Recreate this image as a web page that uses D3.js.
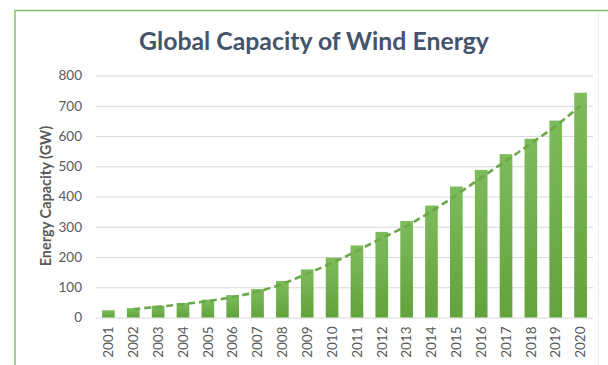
<!DOCTYPE html>
<html>
<head>
<meta charset="utf-8">
<script src="https://cdn.jsdelivr.net/npm/d3@7"></script>
<style>
  html, body { margin: 0; padding: 0; background: #ffffff; }
  svg { display: block; }
</style>
</head>
<body>
<svg id="chart" width="608" height="365"></svg>
<script>
// ---- data ----
const years = ["2001","2002","2003","2004","2005","2006","2007","2008","2009","2010",
               "2011","2012","2013","2014","2015","2016","2017","2018","2019","2020"];
const capacity = [24, 31, 39, 48, 59, 74, 94, 121, 159, 198,
                  238, 283, 319, 370, 433, 488, 540, 591, 651, 743];
// dashed trend line, starts at 2002
const trendYears = ["2002","2003","2004","2005","2006","2007","2008","2009","2010","2011",
                    "2012","2013","2014","2015","2016","2017","2018","2019","2020"];
const trendValues = [28, 35, 44, 54, 67, 85, 110, 145, 180, 220,
                     262, 302, 350, 405, 462, 518, 575, 632, 700];
const yTicks = [0, 100, 200, 300, 400, 500, 600, 700, 800];
const titleText = "Global Capacity of Wind Energy";
const yAxisTitle = "Energy Capacity (GW)";

// ---- layout ----
const svg = d3.select("#chart");
const W = 608, H = 365;
const plot = { left: 96, right: 593, top: 75.5, bottom: 317.5 };

// frame
svg.append("line").attr("x1", 15).attr("x2", W).attr("y1", 10.5).attr("y2", 10.5)
  .attr("stroke", "#84c064").attr("stroke-width", 1.5);
svg.append("line").attr("x1", 15).attr("x2", 15).attr("y1", 10).attr("y2", H)
  .attr("stroke", "#84c064").attr("stroke-width", 1.5);
svg.append("line").attr("x1", 598.5).attr("x2", 598.5).attr("y1", 12).attr("y2", H)
  .attr("stroke", "#f0f0ea").attr("stroke-width", 1);

const x = d3.scaleBand().domain(years).range([plot.left, plot.right]).paddingInner(0.49).paddingOuter(0.245);
const y = d3.scaleLinear().domain([0, 800]).range([plot.bottom, plot.top]);

// gradient for bars
const defs = svg.append("defs");
const grad = defs.append("linearGradient").attr("id", "barGrad")
  .attr("x1", 0).attr("x2", 0).attr("y1", 0).attr("y2", 1);
grad.append("stop").attr("offset", "0%").attr("stop-color", "#7dbb5b");
grad.append("stop").attr("offset", "100%").attr("stop-color", "#62a33c");

// gridlines
const yAxis = d3.axisLeft(y).tickValues(yTicks).tickSize(-(plot.right - plot.left)).tickPadding(14);
const gy = svg.append("g").attr("transform", `translate(${plot.left},0)`).call(yAxis);
gy.select(".domain").remove();
gy.selectAll(".tick line").attr("stroke", "#d9d9d9").attr("stroke-width", 1);
gy.selectAll(".tick text")
  .attr("fill", "#595959")
  .style("font-family", "Lato, 'Open Sans', sans-serif")
  .style("font-size", "13.5px");

// bars
svg.append("g").selectAll("rect").data(years).join("rect")
  .attr("x", d => x(d))
  .attr("width", x.bandwidth())
  .attr("y", (d, i) => y(capacity[i]))
  .attr("height", (d, i) => y(0) - y(capacity[i]))
  .attr("fill", "url(#barGrad)");

// x axis labels
const xAxis = d3.axisBottom(x).tickSize(0).tickPadding(0);
const gx = svg.append("g").attr("transform", `translate(0,${plot.bottom})`).call(xAxis);
gx.select(".domain").remove();
gx.selectAll(".tick text")
  .attr("fill", "#595959")
  .style("font-family", "Lato, 'Open Sans', sans-serif")
  .style("font-size", "13.5px")
  .attr("text-anchor", "end")
  .attr("dy", "0.35em")
  .attr("transform", "translate(0,9) rotate(-90)");

// trend line
const line = d3.line()
  .x((d, i) => x(trendYears[i]) + x.bandwidth() / 2)
  .y(d => y(d));
svg.append("path").datum(trendValues)
  .attr("d", line)
  .attr("fill", "none")
  .attr("stroke", "#6aa84a")
  .attr("stroke-width", 2.6)
  .attr("stroke-dasharray", "7,4");

// title
svg.append("text")
  .attr("x", 314).attr("y", 50)
  .attr("text-anchor", "middle")
  .attr("fill", "#44546a")
  .style("font-family", "Lato, 'Open Sans', sans-serif")
  .style("font-weight", "bold")
  .style("font-size", "24.8px")
  .text(titleText);

// y axis title
svg.append("text")
  .attr("transform", "translate(51,196) rotate(-90)")
  .attr("text-anchor", "middle")
  .attr("fill", "#595959")
  .style("font-family", "Lato, 'Open Sans', sans-serif")
  .style("font-weight", "bold")
  .style("font-size", "14.5px")
  .text(yAxisTitle);
</script>
</body>
</html>
